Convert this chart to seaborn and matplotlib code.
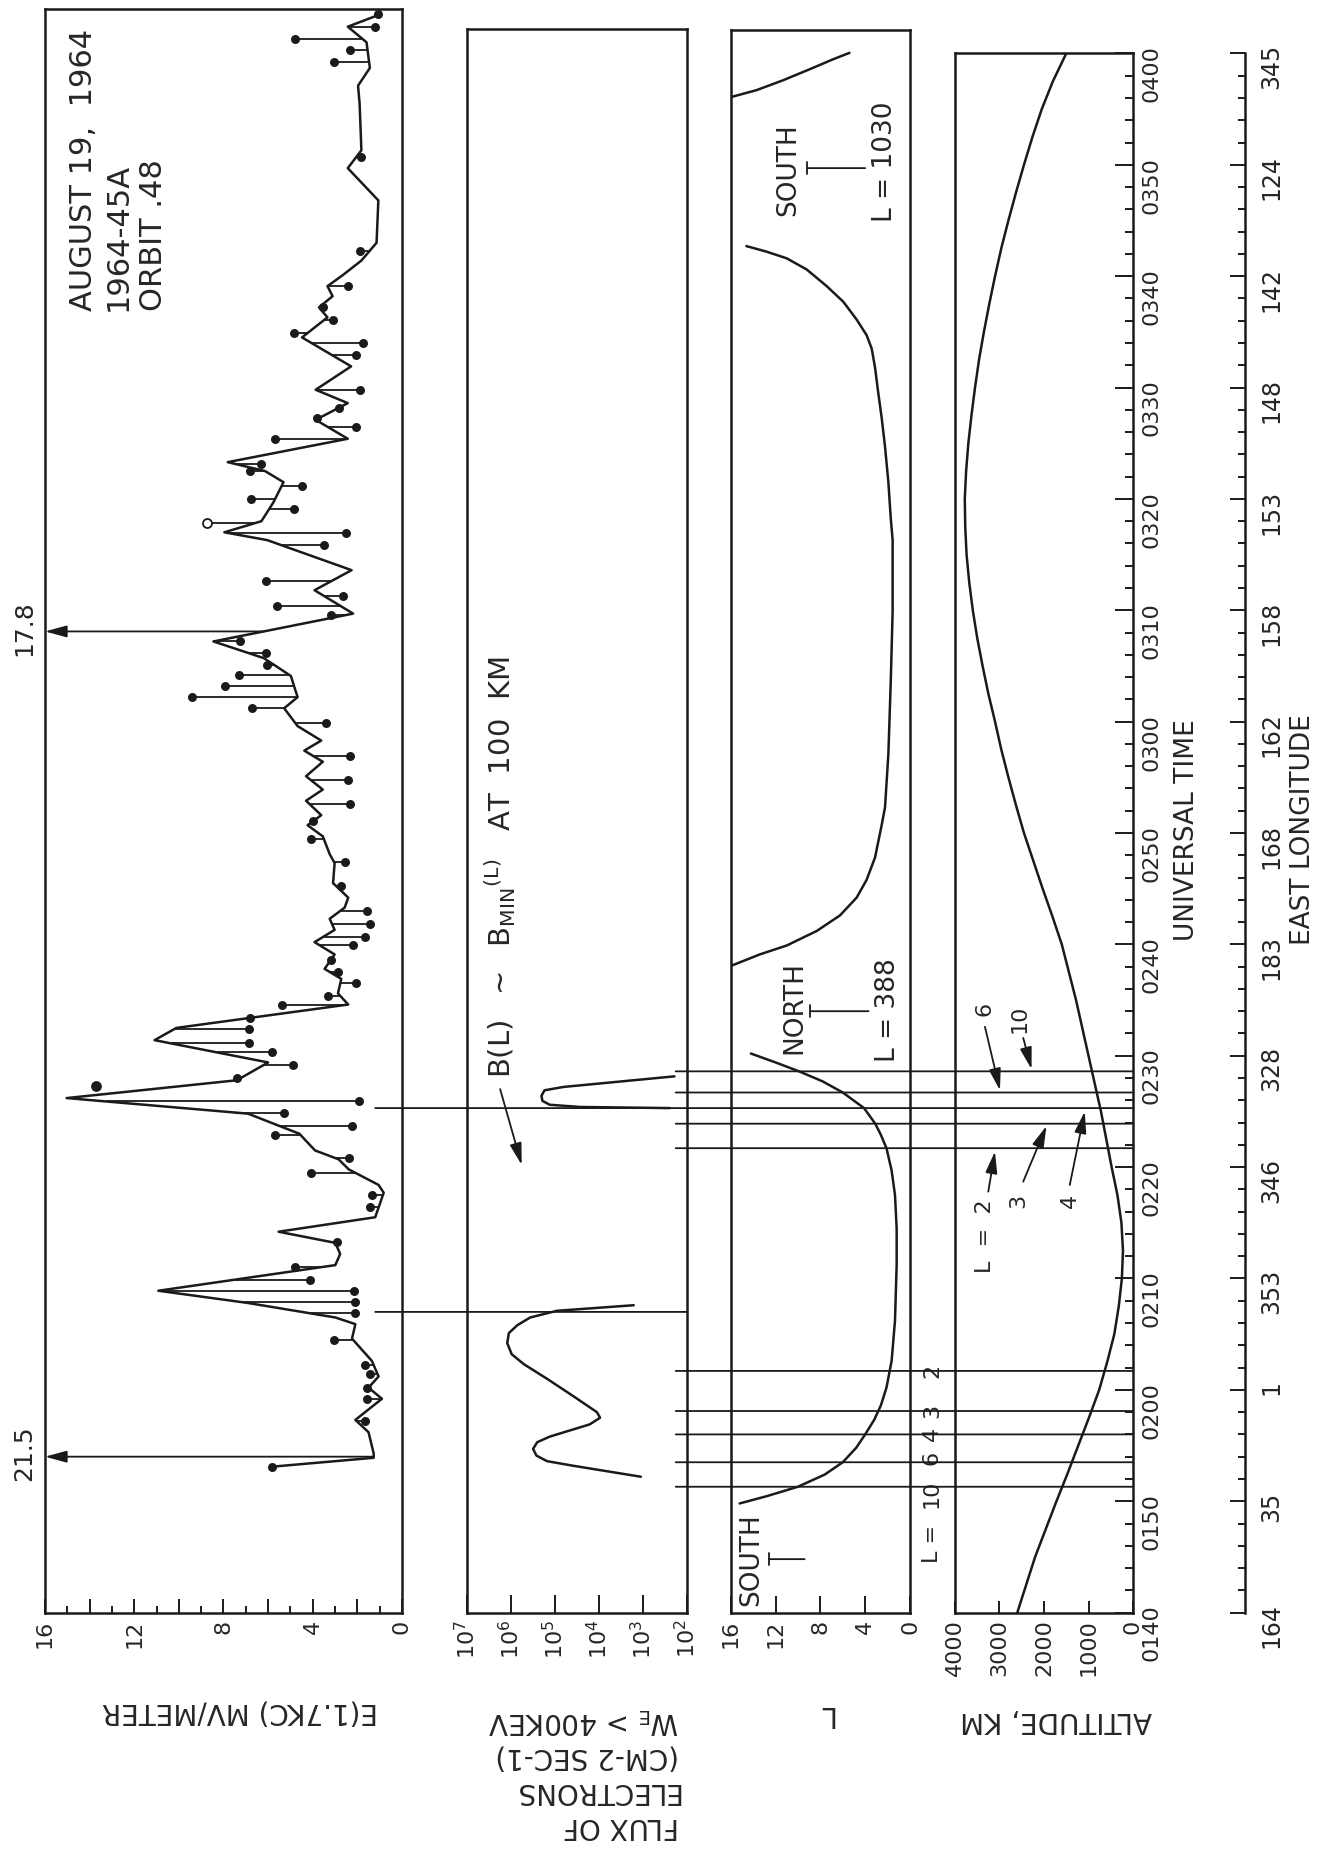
import numpy as np
import matplotlib
matplotlib.use("Agg")
import matplotlib.pyplot as plt
from matplotlib.patches import ConnectionPatch
from matplotlib.ticker import MultipleLocator, NullLocator
import seaborn as sns

# time is minutes UT after 00:00 (100 = 01:40, 240 = 04:00)
time_ticks = list(range(100, 241, 10))
time_labels = ["0140", "0150", "0200", "0210", "0220", "0230", "0240", "0250",
               "0300", "0310", "0320", "0330", "0340", "0350", "0400"]
lon_labels = ["164", "35", "1", "353", "346", "328", "183", "168",
              "162", "158", "153", "148", "142", "124", "345"]

# E(1.7 kc) trace, mV/m
e_time = [113.1, 113.9, 114.3, 116.2, 117.3, 119.2, 120.2, 121.2, 122.6, 124.6,
          125.9, 126.5, 127.8, 128.9, 131.2, 132.2, 133.2, 134.2, 135.5, 137.7,
          138.4, 139.8, 140.7, 141.5, 143.0, 143.7, 144.8, 146.2, 147.8, 149.4,
          151.4, 152.5, 154.6, 155.6, 156.9, 157.8, 159.1, 160.2, 161.3, 162.3,
          163.3, 164.2, 165.5, 167.3, 168.1, 169.7, 170.7, 171.6, 172.9, 173.9,
          175.1, 176.4, 177.4, 178.3, 179.6, 181.2, 182.2, 184.1, 185.7, 187.2,
          189.7, 191.8, 193.6, 196.3, 197.0, 198.0, 199.7, 201.5, 202.5, 203.3,
          205.4, 207.1, 208.6, 209.8, 211.9, 214.5, 216.3, 217.2, 218.2, 219.1,
          220.1, 221.4, 223.0, 226.8, 229.7, 231.3, 235.5, 237.1, 238.7, 241.0,
          242.4, 243.5]
e_field = [5.83, 1.27, 1.27, 1.50, 2.09, 0.90, 1.50, 1.05, 1.35, 2.24,
           2.09, 2.99, 6.9, 10.92, 2.99, 2.77, 2.99, 5.53, 1.20, 0.82,
           1.05, 2.39, 2.84, 3.9, 4.6, 5.5, 6.9, 15.03, 7.4, 6.0,
           11.09, 10.11, 2.41, 2.87, 2.72, 3.47, 3.02, 3.92, 3.02, 3.24,
           2.57, 2.41, 3.09, 3.02, 3.24, 3.55, 4.23, 3.62, 4.30, 3.55,
           4.30, 3.55, 4.38, 3.62, 4.68, 5.28, 4.68, 4.98, 6.19, 8.45,
           2.19, 3.92, 2.26, 6.04, 7.96, 6.30, 5.76, 5.31, 6.14, 7.81,
           2.43, 3.87, 2.43, 3.87, 2.28, 4.48, 3.34, 3.72, 3.11, 3.34,
           2.65, 1.82, 1.14, 1.06, 2.43, 1.82, 1.90, 1.97, 1.44, 1.59,
           2.43, 0.99]

# single readings joined to the trace
dot_time = [113.1, 117.2, 119.2, 120.2, 121.4, 122.2, 124.5, 126.9, 127.9, 128.9,
            129.9, 131.0, 133.3, 136.4, 137.5, 139.5, 140.8, 142.9, 143.7, 144.9,
            145.9, 148.0, 149.2, 150.3, 151.1, 152.4, 153.4, 154.6, 155.4, 156.5,
            157.5, 158.6, 159.9, 160.7, 161.8, 163.0, 165.2, 167.4, 169.5, 171.1,
            172.6, 174.8, 176.9, 179.9, 181.2, 182.2, 183.2, 184.2, 185.1, 186.2,
            187.2, 189.6, 190.4, 191.3, 192.6, 195.9, 196.9, 199.1, 200.0, 201.2,
            202.5, 203.1, 205.4, 206.5, 207.3, 208.2, 209.8, 212.9, 214.0, 214.9,
            216.1, 217.2, 219.1, 222.3, 230.7, 239.2, 240.3, 241.3, 242.4, 243.5]
dot_field = [5.83, 1.64, 1.57, 1.57, 1.42, 1.64, 3.07, 2.09, 2.09, 2.17,
             4.11, 4.81, 2.92, 1.42, 1.35, 4.07, 2.39, 5.68, 2.24, 5.31,
             1.94, 7.39, 4.90, 5.81, 6.87, 6.87, 6.79, 5.36, 3.32, 2.04,
             2.87, 3.17, 2.19, 1.66, 1.43, 1.58, 2.72, 2.57, 4.07, 4.00,
             2.34, 2.41, 2.34, 3.40, 6.72, 9.43, 7.92, 7.32, 6.04, 6.11,
             7.24, 3.17, 5.58, 2.64, 6.11, 3.5, 2.50, 4.85, 6.75, 4.48,
             6.83, 6.30, 5.69, 2.05, 3.79, 2.81, 1.90, 2.05, 1.74, 4.85,
             3.11, 3.56, 2.43, 1.90, 1.82, 3.03, 2.35, 4.78, 1.21, 1.06]
open_time = [197.8]
open_field = [8.72]
lone_time = [147.3]
lone_field = [13.7]
off_time = [114.0, 188.1]
off_field = [21.5, 17.8]

# electron flux We > 400 keV
flux_time_1 = [112.2, 113.2, 113.6, 114.1, 114.7, 115.3, 115.8, 116.9, 117.5, 118.0,
               119.5, 121.0, 122.3, 123.2, 124.2, 125.1, 125.8, 126.5, 127.1, 127.6]
flux_1 = [1.1e3, 4.0e4, 1.5e5, 2.6e5, 3.1e5, 2.5e5, 1.3e5, 1.6e4, 9.3e3, 1.1e4,
          4.0e4, 1.5e5, 5.0e5, 9.5e5, 1.2e6, 1.1e6, 7.1e5, 3.6e5, 8.9e4, 1.6e3]
flux_time_2 = [145.3, 145.4, 145.6, 145.95, 146.4, 146.9, 147.2, 148.15]
flux_2 = [2.4e2, 2.6e4, 1.3e5, 1.9e5, 2.0e5, 1.7e5, 6.3e4, 1.9e2]

# L shell
l_time_1 = [109.8, 110.45, 111.3, 112.4, 113.5, 114.8, 116.0, 117.3, 118.6, 120.2,
            122.6, 126.2, 131.2, 134.5, 137.5, 139.7, 141.7, 142.9, 143.9, 145.3,
            146.7, 147.7, 148.6, 149.4, 150.2]
l_val_1 = [15.2, 12.8, 10.0, 7.6, 6.0, 4.8, 4.0, 3.2, 2.6, 2.1,
           1.64, 1.34, 1.19, 1.19, 1.34, 1.64, 2.1, 2.6, 3.1, 4.1,
           6.0, 7.8, 9.9, 12.0, 14.2]
l_time_2 = [158.1, 159.1, 159.9, 161.2, 162.6, 164.2, 165.8, 167.8, 170.7, 172.3,
            177.1, 183.5, 189.9, 196.3, 198.3, 201.5, 204.7, 207.3, 209.5, 211.8,
            213.5, 214.7, 216.1, 217.7, 219.1, 220.6, 221.6, 222.2, 222.7]
l_val_2 = [15.9, 13.4, 11.0, 8.33, 6.25, 4.76, 3.87, 3.12, 2.53, 2.23,
           1.93, 1.72, 1.55, 1.55, 1.72, 1.93, 2.23, 2.53, 2.83, 3.12,
           3.42, 3.87, 4.76, 5.95, 7.43, 9.22, 11.0, 12.8, 14.6]
l_time_3 = [236.1, 236.7, 237.6, 238.6, 239.5, 240.05]
l_val_3 = [15.9, 13.7, 11.3, 8.9, 6.8, 5.4]

# altitude, km
alt_time = [100, 102.5, 105, 107.5, 110, 112.5, 115, 117.5, 120, 122.5,
            125, 127.5, 130, 132.5, 135, 137.5, 140, 142.5, 145, 147.5,
            150, 152.5, 155, 157.5, 160, 162.5, 165, 167.5, 170, 172.5,
            175, 177.5, 180, 182.5, 185, 187.5, 190, 192.5, 195, 197.5,
            200, 202.5, 205, 207.5, 210, 212.5, 215, 217.5, 220, 222.5,
            225, 227.5, 230, 232.5, 235, 237.5, 240]
alt_km = [2600, 2400, 2200, 1960, 1720, 1470, 1230, 990, 760, 580,
          420, 320, 250, 225, 260, 350, 480, 600, 720, 860,
          1000, 1140, 1280, 1440, 1600, 1810, 2030, 2240, 2450, 2630,
          2800, 2960, 3100, 3250, 3380, 3500, 3600, 3680, 3740, 3770,
          3780, 3750, 3700, 3630, 3550, 3460, 3350, 3230, 3100, 2960,
          2800, 2630, 2450, 2260, 2050, 1800, 1500]

# times at which L = 10, 6, 4, 3, 2 is crossed
cross_in = [111.3, 113.5, 116.0, 118.1, 121.7]
cross_in_L = ["10", "6", "4", "3", "2"]
cross_out = [141.7, 143.9, 145.3, 146.7, 148.6]
link_time = [127.0, 145.3]

sns.set_theme(style="white")
plt.rcParams["font.family"] = ["DejaVu Sans"]
plt.rcParams["mathtext.default"] = "regular"

W, H = 1322, 1854
T0_PX, PX_MIN = 1612.6, 11.137   # pixel row of 01:40 and pixels per minute
LW = 1.8
fig = plt.figure(figsize=(W / 100, H / 100), dpi=100)


def fig_y(t):
    return 1 - (T0_PX - (t - 100) * PX_MIN) / H


def panel(x0, x1, t_top):
    ax = fig.add_axes([x0 / W, fig_y(100), (x1 - x0) / W, fig_y(t_top) - fig_y(100)])
    ax.set_facecolor("none")
    for sp in ax.spines.values():
        sp.set_visible(True)
        sp.set_color("k")
        sp.set_linewidth(LW)
    return ax


def style_x(ax):
    ax.set_yticks([])
    ax.tick_params(axis="x", which="both", direction="in", bottom=True, top=False,
                   labelrotation=90, labelsize=16, pad=5, width=1.4, color="k")
    ax.tick_params(axis="x", which="major", length=10)
    ax.tick_params(axis="x", which="minor", length=5)
    ax.set_xlabel("")
    ax.set_ylabel("")


line_kw = dict(orient="y", sort=False, estimator=None, color="k", lw=LW)
arrow_kw = dict(arrowstyle="-|>,head_length=1.1,head_width=0.3", color="k", lw=1.3,
                mutation_scale=12, shrinkA=0, shrinkB=0)

# ---- E field panel
axE = panel(45, 402, 244.0)
sns.lineplot(x=e_field, y=e_time, ax=axE, **line_kw)
stem_end = np.interp(dot_time, e_time, e_field)
axE.hlines(dot_time, dot_field, stem_end, color="k", lw=1.3)
axE.hlines(open_time, open_field, np.interp(open_time, e_time, e_field), color="k", lw=1.3)
sns.scatterplot(x=dot_field, y=dot_time, color="k", s=42, linewidth=0, ax=axE, zorder=4)
sns.scatterplot(x=lone_field, y=lone_time, color="k", s=60, linewidth=0, ax=axE, zorder=4)
sns.scatterplot(x=open_field, y=open_time, s=42, facecolor="white", edgecolor="k",
                linewidth=1.3, ax=axE, zorder=4)
axE.set_xlim(16, 0)
axE.set_ylim(100, 244.0)
for t, v in zip(off_time, off_field):
    axE.annotate("", xy=(16, t), xytext=(np.interp(t, e_time, e_field), t),
                 arrowprops=arrow_kw, annotation_clip=False)
    axE.text(16.95, t + 0.3, f"{v}", rotation=90, ha="center", va="center",
             fontsize=18, clip_on=False)
axE.text(12.7, 216.9, "AUGUST 19,  1964\n1964-45A\nORBIT .48", rotation=90,
         ha="center", va="bottom", multialignment="left", fontsize=22, linespacing=1.25)
axE.set_xticks(np.arange(0, 17, 2), labels=["0", "", "4", "", "8", "", "12", "", "16"])
axE.xaxis.set_minor_locator(MultipleLocator(1))
style_x(axE)

# ---- flux panel
axF = panel(466.7, 686.7, 242.2)
axF.set_xscale("log")
sns.lineplot(x=flux_1, y=flux_time_1, ax=axF, **line_kw)
sns.lineplot(x=flux_2, y=flux_time_2, ax=axF, **line_kw)
axF.set_xlim(1e7, 1e2)
axF.set_ylim(100, 242.2)
axF.set_xticks([1e7, 1e6, 1e5, 1e4, 1e3, 1e2],
               labels=[r"$10^{7}$", r"$10^{6}$", r"$10^{5}$", r"$10^{4}$", r"$10^{3}$", r"$10^{2}$"])
axF.xaxis.set_minor_locator(NullLocator())
axF.text(10 ** 6.24, 148.0, r"B(L)  $\sim$  B$_{MIN}$$^{(L)}$   AT  100  KM", rotation=90,
         ha="center", va="bottom", fontsize=21)
axF.annotate("", xy=(10 ** 5.75, 140.2), xytext=(10 ** 6.24, 147.0), arrowprops=arrow_kw)
style_x(axF)
axF.tick_params(axis="x", which="major", length=13)

# ---- L panel
axL = panel(730.7, 910, 242.1)
for lt, lv in [(l_time_1, l_val_1), (l_time_2, l_val_2), (l_time_3, l_val_3)]:
    sns.lineplot(x=lv, y=lt, ax=axL, **line_kw)
axL.set_xlim(16, 0)
axL.set_ylim(100, 242.1)
axL.set_xticks([0, 4, 8, 12, 16], labels=["0", "4", "8", "12", "16"])
txt = dict(rotation=90, ha="center", va="center", fontsize=19)
bar_kw = dict(arrowstyle="|-|,widthA=0.35,widthB=0", color="k", lw=1.3, shrinkA=0, shrinkB=0)
axL.text(10.86, 229.6, "SOUTH", **txt)
axL.annotate("", xy=(4.0, 229.7), xytext=(9.2, 229.7), arrowprops=bar_kw)
axL.text(2.2, 230.3, "L = 1030", **txt)
axL.text(10.35, 154.3, "NORTH", **txt)
axL.annotate("", xy=(3.7, 154.0), xytext=(8.9, 154.0), arrowprops=bar_kw)
axL.text(1.93, 154.1, "L = 388", **txt)
axL.text(14.2, 104.8, "SOUTH", **txt)
axL.annotate("", xy=(9.4, 104.8), xytext=(12.6, 104.8), arrowprops=bar_kw)
small = dict(txt, fontsize=16)
label_shift = [-0.6, 0.4, 0.0, 0.0, 0.0]   # keep "10" and "6" apart
for t, lab, dt in zip(cross_in, cross_in_L, label_shift):
    axL.text(-1.96, t + dt, lab, clip_on=False, **small)
axL.text(-1.96, 106.2, "L =", clip_on=False, **small)
style_x(axL)
axL.tick_params(axis="x", which="major", length=12)

# ---- altitude panel
axA = panel(955, 1133, 240)
sns.lineplot(x=alt_km, y=alt_time, ax=axA, **line_kw)
axA.set_xlim(4000, 0)
axA.set_ylim(100, 240)
axA.set_xticks([0, 1000, 2000, 3000, 4000], labels=["0", "1000", "2000", "3000", "4000"])
style_x(axA)
axA.tick_params(axis="x", which="major", length=9)
axA.yaxis.tick_right()
axA.set_yticks(time_ticks, labels=time_labels)
axA.yaxis.set_minor_locator(MultipleLocator(2))
axA.tick_params(axis="y", which="both", direction="in", right=True, left=False,
                labelright=True, labelleft=False, labelrotation=90, labelsize=16,
                pad=6, width=1.4, color="k")
axA.tick_params(axis="y", which="major", length=13)
axA.tick_params(axis="y", which="minor", length=6)
axA.text(3330, 133.8, "L  =  2", **small)
axA.annotate("", xy=(3102, 141.4), xytext=(3252, 137.8), arrowprops=arrow_kw)
axA.text(2579, 137.0, "3", **small)
axA.annotate("", xy=(1944, 143.7), xytext=(2467, 138.7), arrowprops=arrow_kw)
axA.text(1421, 137.0, "4", **small)
axA.annotate("", xy=(1084, 145.0), xytext=(1421, 138.4), arrowprops=arrow_kw)
axA.text(3327, 154.2, "6", **small)
axA.annotate("", xy=(2990, 146.9), xytext=(3327, 152.6), arrowprops=arrow_kw)
axA.text(2542, 153.3, "10", **small)
axA.annotate("", xy=(2280, 148.8), xytext=(2467, 151.6), arrowprops=arrow_kw)

# ---- east longitude scale
axLon = fig.add_axes([1245 / W, fig_y(100), 0.0001, fig_y(240) - fig_y(100)])
axLon.set_facecolor("none")
axLon.set_ylim(100, 240)
axLon.set_xticks([])
for side in ["left", "top", "bottom"]:
    axLon.spines[side].set_visible(False)
axLon.spines["right"].set_linewidth(LW)
axLon.spines["right"].set_color("k")
axLon.yaxis.tick_right()
axLon.set_yticks(time_ticks, labels=lon_labels)
axLon.yaxis.set_minor_locator(MultipleLocator(2))
axLon.tick_params(axis="y", which="both", direction="in", right=True, left=False,
                  labelright=True, labelleft=False, labelrotation=90, labelsize=17,
                  pad=10, width=1.4, color="k")
axLon.tick_params(axis="y", which="major", length=11)
axLon.tick_params(axis="y", which="minor", length=5)

# ---- connecting lines
line_style = dict(color="k", lw=1.3, zorder=5)
for t in cross_in + cross_out:
    if t == link_time[1]:
        continue
    fig.add_artist(ConnectionPatch((10 ** 2.25, t), (0, t), axF.transData, axA.transData, **line_style))
fig.add_artist(ConnectionPatch((1.2, link_time[1]), (0, link_time[1]), axE.transData, axA.transData, **line_style))
fig.add_artist(ConnectionPatch((1.2, link_time[0]), (1e2, link_time[0]), axE.transData, axF.transData, **line_style))

# ---- axis titles (upside down, as printed)
fig.text(1187 / W, fig_y(170.3), "UNIVERSAL TIME", rotation=90, ha="center", va="center", fontsize=19)
fig.text(1303 / W, fig_y(170.3), "EAST LONGITUDE", rotation=90, ha="center", va="center", fontsize=19)
fig.text(240 / W, 1 - 1712 / H, "E(1.7KC) MV/METER", rotation=180, ha="center", va="center", fontsize=20)
fig.text(679 / W, 1 - 1706 / H, "FLUX OF\nELECTRONS\n(CM-2 SEC-1)\nW$_E$ > 400KEV",
         rotation=180, ha="right", va="top", multialignment="left", fontsize=20, linespacing=1.3)
fig.text(826 / W, 1 - 1714 / H, "L", rotation=180, ha="center", va="center", fontsize=20)
fig.text(1056 / W, 1 - 1720 / H, "ALTITUDE, KM", rotation=180, ha="center", va="center", fontsize=20)

fig.savefig("out.png", dpi=100, facecolor="white")
